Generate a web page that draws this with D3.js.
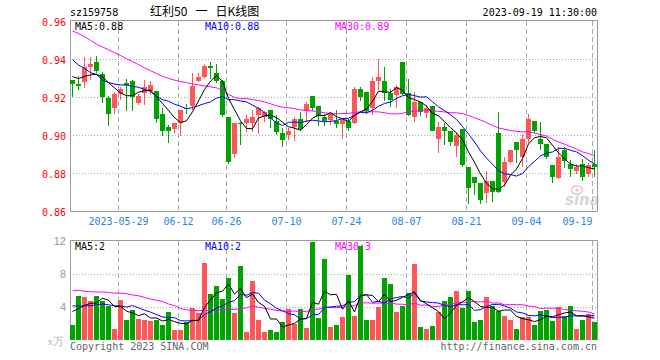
<!DOCTYPE html>
<html><head><meta charset="utf-8">
<script src="https://cdn.jsdelivr.net/npm/d3@7"></script>
<style>body{margin:0;background:#fff}svg{display:block}</style>
</head><body>
<svg id="chart" width="660" height="360"></svg>
<script>
// ---------- DATA ----------
const symbol = "sz159758";
const title = "红利50   一   日K线图";
const stamp = "2023-09-19 11:30:00";
const dates = ["05-17","05-18","05-19","05-22","05-23","05-24","05-25","05-26","05-29","05-30","05-31",
"06-01","06-02","06-05","06-06","06-07","06-08","06-09","06-12","06-13","06-14","06-15","06-16","06-19","06-20","06-21","06-26","06-27","06-28","06-29","06-30",
"07-03","07-04","07-05","07-06","07-07","07-10","07-11","07-12","07-13","07-14","07-17","07-18","07-19","07-20","07-21","07-24","07-25","07-26","07-27","07-28","07-31",
"08-01","08-02","08-03","08-04","08-07","08-08","08-09","08-10","08-11","08-14","08-15","08-16","08-17","08-18","08-21","08-22","08-23","08-24","08-25","08-28","08-29","08-30","08-31",
"09-01","09-04","09-05","09-06","09-07","09-08","09-11","09-12","09-13","09-14","09-15","09-18","09-19"];
const open = [0.929,0.927,0.928,0.936,0.9386,0.932,0.9195,0.9146,0.9218,0.9275,0.9286,0.917,0.922,0.9233,0.9233,0.9112,0.9042,0.9035,0.9067,0.9145,
0.9156,0.9286,0.9309,0.9365,0.9326,0.9286,0.9096,0.8902,0.9067,0.9065,0.9065,0.9107,0.9095,0.9133,0.9077,0.9012,0.9004,0.9042,0.9086,0.9128,
0.9207,0.9154,0.9096,0.9081,0.9075,0.9058,0.9075,0.9067,0.9242,0.9228,0.9146,0.9286,0.9286,0.9225,0.9211,0.9386,0.9221,0.9098,0.9175,0.9116,
0.9154,0.8981,0.9042,0.9025,0.8946,0.9033,0.8835,0.8781,0.8751,0.8695,0.876,0.9014,0.8756,0.886,0.8967,0.8884,0.898,0.9077,0.8982,0.8954,
0.8844,0.8774,0.8923,0.8849,0.8814,0.8849,0.8795,0.8849];
const high = [0.929,0.931,0.941,0.941,0.942,0.9333,0.9207,0.923,0.9256,0.9296,0.929,0.9218,0.9289,0.9286,0.9233,0.9142,0.9054,0.9067,0.9133,0.9164,
0.9328,0.9328,0.9375,0.9386,0.9375,0.929,0.9096,0.9065,0.9072,0.9107,0.9133,0.9151,0.913,0.9133,0.9107,0.9037,0.904,0.9097,0.912,0.9175,
0.9207,0.9154,0.911,0.912,0.9133,0.9084,0.9086,0.9256,0.9253,0.9228,0.9305,0.940,0.9358,0.9245,0.9265,0.9386,0.9295,0.923,0.9175,0.916,
0.9154,0.9072,0.9067,0.9025,0.9016,0.9033,0.8835,0.8781,0.8751,0.8812,0.876,0.9124,0.8888,0.8923,0.8967,0.9007,0.9112,0.9077,0.907,0.8954,
0.8844,0.8937,0.8937,0.887,0.885,0.8874,0.8856,0.8923];
const low = [0.920,0.924,0.925,0.929,0.9326,0.917,0.905,0.911,0.9186,0.913,0.913,0.916,0.916,0.921,0.9063,0.8996,0.8961,0.9009,0.8998,0.9112,
0.9135,0.9279,0.930,0.9295,0.9274,0.9098,0.8847,0.888,0.8949,0.9018,0.9016,0.9007,0.9072,0.904,0.900,0.8939,0.8975,0.897,0.902,0.9072,
0.913,0.905,0.905,0.9054,0.9037,0.8979,0.9021,0.9061,0.918,0.911,0.9105,0.9238,0.9182,0.915,0.9145,0.921,0.910,0.9072,0.910,0.909,
0.902,0.8909,0.8949,0.8944,0.8888,0.8832,0.8637,0.8686,0.8637,0.8642,0.865,0.8695,0.873,0.885,0.8853,0.8835,0.8958,0.901,0.8923,0.8874,
0.8747,0.877,0.8826,0.8782,0.8795,0.876,0.8782,0.8782];
const close = [0.927,0.926,0.936,0.9375,0.934,0.920,0.9114,0.9218,0.9244,0.9267,0.920,0.9207,0.9253,0.9265,0.9088,0.9025,0.9025,0.9063,0.9133,0.9137,
0.9261,0.9309,0.9365,0.9353,0.9286,0.9107,0.8861,0.9065,0.9063,0.9086,0.9095,0.9144,0.9123,0.9086,0.9016,0.8975,0.9025,0.9086,0.9033,0.9165,
0.9142,0.9102,0.9077,0.9112,0.9058,0.9081,0.9037,0.9242,0.920,0.913,0.9286,0.9305,0.9225,0.9186,0.9253,0.9218,0.9107,0.9177,0.9124,0.9144,
0.9025,0.9042,0.9025,0.8967,0.9002,0.8846,0.8725,0.8749,0.866,0.876,0.8704,0.8704,0.886,0.8923,0.8923,0.898,0.9086,0.9025,0.8955,0.8888,
0.8782,0.8888,0.8865,0.8821,0.8835,0.8782,0.8845,0.8832];
const volume = [1.86,5.37,5.25,4.77,5.37,4.77,4.16,1.37,4.89,2.46,3.68,2.59,2.46,2.34,2.46,1.86,3.43,1.25,1.25,2.22,
3.92,3.27,9.37,5.6,6.6,5.0,7.55,3.3,9.0,1.0,7.2,2.46,1.0,1.25,1.0,2.22,3.8,1.98,3.8,1.5,
11.9,2.7,9.86,1.6,1.86,2.83,7.9,2.95,11.4,2.46,2.46,4.04,7.55,6.83,3.43,4.16,5.74,9.25,1.6,1.37,
1.74,3.43,4.77,5.25,5.98,3.92,5.98,2.22,2.46,5.25,4.16,3.55,2.95,2.46,1.37,2.83,2.83,1.86,3.55,3.68,
2.34,4.04,2.95,4.16,1.37,2.46,3.19,2.22];
// moving-average values of the first days (their windows start before the chart)
const priceMA5Head = [0.9309,0.9298,0.931,0.9318];
const priceMA10Head = [0.9398,0.937,0.9352,0.933,0.932,0.929,0.9278,0.927,0.9265];
const priceMA30Head = [0.955,0.9535,0.952,0.950,0.948,0.9465,0.945,0.9435,0.942,0.9403,0.9388,0.9372,0.9355,0.934,0.9325,
0.931,0.930,0.929,0.9283,0.9277,0.927,0.9265,0.926,0.9255,0.925,0.9235,0.9215,0.920,0.9193];
const volMA5Head = [3.5,3.84,4.24,4.48];
const volMA10Head = [4.16,4.16,4.16,4.2,4.3,4.4,4.3,4.2,4.15];
const volMA30Head = [6.0,6.05,5.95,5.9,5.86,5.86,5.8,5.72,5.7,5.65,5.5,5.4,5.2,5.0,4.85,4.7,4.4,4.2,3.85,3.7,
3.62,3.6,3.62,3.65,3.68,3.7,3.72,3.75,3.8];
const priceTicks = [0.96,0.94,0.92,0.90,0.88,0.86];
const priceGrid = [0.94,0.92,0.90,0.88];
const volTicks = [12,8,4];
const volGrid = [8,4];
const tickDates = ["05-29","06-12","06-26","07-10","07-24","08-07","08-21","09-04","09-19"];
const tickLabels = ["2023-05-29","06-12","06-26","07-10","07-24","08-07","08-21","09-04","09-19"];
const volUnit = "x万";
const copyright = "Copyright 2023 SINA.COM";
const siteUrl = "http://finance.sina.com.cn";

// ---------- HELPERS ----------
function movingAvg(series, n, head){
  return series.map((v,i)=>{
    if(i < n-1) return head[i];
    let s=0; for(let k=i-n+1;k<=i;k++) s+=series[k];
    return s/n;
  });
}
const candles = dates.map((d,i)=>({d,o:open[i],h:high[i],l:low[i],c:close[i],v:volume[i]}));
const pMA = [[5,movingAvg(close,5,priceMA5Head)],[10,movingAvg(close,10,priceMA10Head)],[30,movingAvg(close,30,priceMA30Head)]];
const vMA = [[5,movingAvg(volume,5,volMA5Head)],[10,movingAvg(volume,10,volMA10Head)],[30,movingAvg(volume,30,volMA30Head)]];
const maColor = {5:"#000000",10:"#0000ff",30:"#ff00ff"};
const RED="#ff5757", GREEN="#00a400", FRAME="#9a9a9a", GRID="#aaaaaa";
const MONO="'DejaVu Sans Mono', 'Liberation Mono', monospace";

// ---------- LAYOUT ----------
const L=70, R=597, PT=20, PB=211, VT=240, VB=340;
const x = d3.scaleBand().domain(dates).range([70,598]).padding(0);
const yP = d3.scaleLinear().domain([0.86,0.96]).range([211.3,21.3]);
const yV = d3.scaleLinear().domain([0,12]).range([340.3,241.3]);
const cx = d => x(d)+2.5;

const svg = d3.select("#chart");
const g = svg.append("g");

// header texts
g.append("text").attr("x",70).attr("y",16).attr("font-family",MONO).attr("font-size",10).attr("fill","#000").text(symbol);
g.append("text").attr("x",150).attr("y",16).attr("font-family","'Noto Sans CJK SC', sans-serif").attr("font-size",12)
  .attr("fill","#000").style("white-space","pre").text(title);
g.append("text").attr("x",597).attr("y",16).attr("text-anchor","end").attr("font-family",MONO).attr("font-size",10).attr("fill","#000").text(stamp);

// grid: horizontal dotted
g.selectAll(".hgp").data(priceGrid).join("line")
  .attr("x1",L).attr("x2",R).attr("y1",d=>Math.round(yP(d))+0.5).attr("y2",d=>Math.round(yP(d))+0.5)
  .attr("stroke",GRID).attr("stroke-dasharray","1,2");
g.selectAll(".hgv").data(volGrid).join("line")
  .attr("x1",L).attr("x2",R).attr("y1",d=>Math.round(yV(d))+0.5).attr("y2",d=>Math.round(yV(d))+0.5)
  .attr("stroke",GRID).attr("stroke-dasharray","1,2");
// grid: vertical dashed
[[PT,PB],[VT,VB]].forEach(([a,b])=>{
  g.append("g").selectAll("line").data(tickDates).join("line")
    .attr("x1",d=>x(d)+0.5).attr("x2",d=>x(d)+0.5).attr("y1",a+1).attr("y2",b)
    .attr("stroke",GRID).attr("stroke-dasharray","5,3");
});

// frames
g.append("path").attr("d",`M${L+0.5},${PT+0.5}H${R+0.5}V${PB+0.5}H${L+0.5}Z`).attr("fill","none").attr("stroke",FRAME);
g.append("path").attr("d",`M${L+0.5},${VB}V${VT+0.5}H${R+0.5}V${VB}`).attr("fill","none").attr("stroke",FRAME);

// price axis labels
g.selectAll(".pl").data(priceTicks).join("text")
  .attr("x",66).attr("y",d=>yP(d)+4.3).attr("text-anchor","end")
  .attr("font-family",MONO).attr("font-size",10).attr("fill","#ff0000").text(d=>d3.format(".2f")(d));
// volume axis labels
g.selectAll(".vl").data(volTicks).join("text")
  .attr("x",66).attr("y",d=>yV(d)+3.2).attr("text-anchor","end")
  .attr("font-family","'Liberation Sans', Arial, sans-serif").attr("font-size",11).attr("fill","#999").text(d=>d);
g.append("text").attr("x",64).attr("y",345).attr("text-anchor","end")
  .attr("font-family","'Liberation Serif', serif").attr("font-size",11).attr("fill","#b8b8b8").text(volUnit);

// date labels
g.selectAll(".dl").data(tickDates).join("text")
  .attr("y",225).attr("font-family",MONO).attr("font-size",10).attr("fill","#1f88e0")
  .text((d,i)=>tickLabels[i])
  .each(function(d){
    const w=this.getComputedTextLength(), px=x(d)+0.5;
    if(px+w/2>R){ d3.select(this).attr("x",px).attr("text-anchor","end"); }
    else d3.select(this).attr("x",px).attr("text-anchor","middle");
  });

// watermark
const wm = g.append("g").attr("opacity",0.5);
wm.append("ellipse").attr("cx",577).attr("cy",190).attr("rx",5.5).attr("ry",4).attr("fill","none").attr("stroke","#e08080").attr("stroke-width",1.5);
wm.append("circle").attr("cx",577).attr("cy",190).attr("r",1.6).attr("fill","#e08080");
wm.append("text").attr("x",565).attr("y",205).attr("font-family","'DejaVu Sans', sans-serif").attr("font-weight","bold")
  .attr("font-style","italic").attr("font-size",15).attr("fill","#b0b0b0").text("sina");

// legends
const fmtP = d3.format(".2f");
pMA.forEach(([n,arr],k)=>{
  g.append("text").attr("x",[75,205,335][k]).attr("y",29.5).attr("font-family",MONO).attr("font-size",10)
    .attr("fill",maColor[n]).text(`MA${n}:${fmtP(arr[arr.length-1])}`);
});
vMA.forEach(([n,arr],k)=>{
  g.append("text").attr("x",[75,205,335][k]).attr("y",249.5).attr("font-family",MONO).attr("font-size",10)
    .attr("fill",maColor[n]).text(`MA${n}:${Math.floor(arr[arr.length-1])}`);
});

// candles
const cg = g.append("g").attr("shape-rendering","crispEdges");
cg.selectAll(".wick").data(candles).join("rect")
  .attr("x",d=>x(d.d)+2).attr("width",1)
  .attr("y",d=>Math.round(yP(d.h))).attr("height",d=>Math.max(1,Math.round(yP(d.l))-Math.round(yP(d.h))))
  .attr("fill",d=>d.c>=d.o?RED:GREEN);
cg.selectAll(".body").data(candles).join("rect")
  .attr("x",d=>x(d.d)).attr("width",5)
  .attr("y",d=>Math.round(yP(Math.max(d.o,d.c))))
  .attr("height",d=>Math.max(1,Math.round(yP(Math.min(d.o,d.c)))-Math.round(yP(Math.max(d.o,d.c)))))
  .attr("fill",d=>d.c>=d.o?RED:GREEN);

// volume bars
cg.selectAll(".vol").data(candles).join("rect")
  .attr("x",d=>x(d.d)).attr("width",5)
  .attr("y",d=>Math.round(yV(d.v))).attr("height",d=>Math.round(yV(0))-Math.round(yV(d.v)))
  .attr("fill",d=>d.c>=d.o?RED:GREEN);

// MA lines
const lineP = d3.line().x((v,i)=>cx(dates[i])).y(v=>yP(v));
const lineV = d3.line().x((v,i)=>cx(dates[i])).y(v=>yV(v));
[30,10,5].forEach(n=>{
  const p = pMA.find(e=>e[0]===n)[1], v = vMA.find(e=>e[0]===n)[1];
  g.append("path").attr("d",lineP(p)).attr("fill","none").attr("stroke",maColor[n]).attr("stroke-width",1);
  g.append("path").attr("d",lineV(v)).attr("fill","none").attr("stroke",maColor[n]).attr("stroke-width",1);
});

// footer
g.append("text").attr("x",70).attr("y",350).attr("font-family",MONO).attr("font-size",10).attr("fill","#666").text(copyright);
g.append("text").attr("x",597).attr("y",350).attr("text-anchor","end").attr("font-family",MONO).attr("font-size",10).attr("fill","#666").text(siteUrl);
</script>
</body></html>
